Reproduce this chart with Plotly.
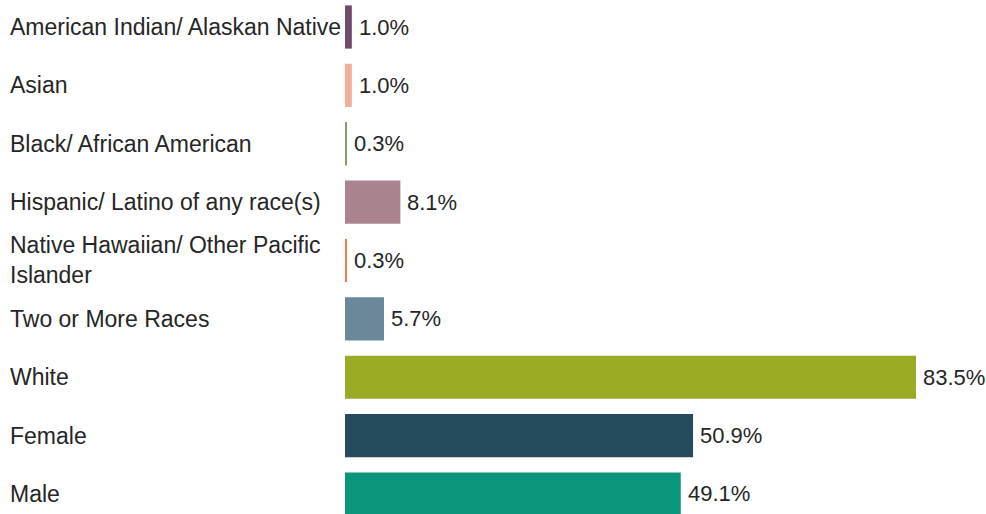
import plotly.graph_objects as go

categories = [
    "American Indian/ Alaskan Native",
    "Asian",
    "Black/ African American",
    "Hispanic/ Latino of any race(s)",
    "Native Hawaiian/ Other Pacific<br>Islander",
    "Two or More Races",
    "White",
    "Female",
    "Male",
]
values = [1.0, 1.0, 0.3, 8.1, 0.3, 5.7, 83.5, 50.9, 49.1]
colors = ["#6e4a6c", "#f2b097", "#7f9f6f", "#a9848f", "#ea7f55",
          "#6a8899", "#9aaa24", "#244a5c", "#0a967b"]

W, H = 986, 514
FONT = "Liberation Sans, Arial, sans-serif"

ids = list(range(len(categories)))

fig = go.Figure()
fig.add_trace(go.Bar(
    x=values, y=ids, orientation="h",
    marker=dict(color=colors, line=dict(width=0)),
    width=0.74,
))

# value labels just past the bar ends
for i, v in enumerate(values):
    fig.add_annotation(
        x=v, xref="x", xanchor="left", xshift=5,
        y=i, yref="y", yanchor="middle",
        text=f"{v:.1f}%", showarrow=False,
        font=dict(family=FONT, size=22, color="#262626"),
    )

# category labels, left aligned
for i, c in enumerate(categories):
    fig.add_annotation(
        x=8 / W, xref="paper", xanchor="left",
        y=i, yref="y", yanchor="middle",
        text=c, showarrow=False, align="left",
        font=dict(family=FONT, size=23, color="#262626"),
    )

fig.update_layout(
    width=W, height=H,
    margin=dict(l=0, r=0, t=0, b=0),
    plot_bgcolor="white", paper_bgcolor="white",
    showlegend=False,
    xaxis=dict(domain=[345 / W, 1], range=[0, 93.74], visible=False),
    yaxis=dict(range=[8.343, -0.4625], visible=False),
)

# drop the default page margin so the figure fills the window
fig.write_html("out.html",
               config={"displayModeBar": False},
               post_script="document.body.style.margin='0';document.body.style.overflow='hidden';")
